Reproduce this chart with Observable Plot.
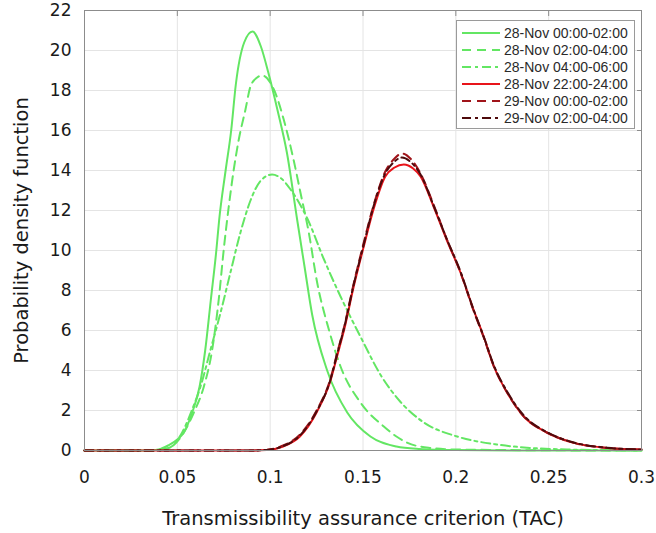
<!DOCTYPE html>
<html><head><meta charset="utf-8">
<script src="https://cdn.jsdelivr.net/npm/d3@7"></script>
<script src="https://cdn.jsdelivr.net/npm/@observablehq/plot@0.6"></script>
<style>
body{margin:0;background:#fff}
#wrap{position:relative;width:656px;height:533px}
#legend{position:absolute;left:456px;top:20px;width:179px;height:109px;border:1px solid #9a9a9a;background:#fff;font-family:"Liberation Sans",Arial,sans-serif;font-size:14px;color:#2a2a2a;box-sizing:border-box;padding-top:3px}
#legend .row{display:flex;align-items:center;height:17px}
#legend svg{margin-left:5px;margin-right:4px}
</style>
</head><body><div id="wrap"><div id="legend"></div></div>
<script>
const seriesNames = ["28-Nov 00:00-02:00","28-Nov 02:00-04:00","28-Nov 04:00-06:00","28-Nov 22:00-24:00","29-Nov 00:00-02:00","29-Nov 02:00-04:00"];
const seriesColors = ["#63e663","#63e663","#63e663","#e8141a","#a0141a","#4e0a0c"];
const seriesDash = ["none","9,6","9,4,3,4","none","9,6","9,4,3,4"];

const g1x = [0,0.035,0.04,0.045,0.05,0.0535,0.058,0.062,0.065,0.068,0.071,0.0725,0.076,0.079,0.0815,0.086,0.0905,0.095,0.099,0.104,0.109,0.1146,0.1185,0.1226,0.1307,0.1415,0.154,0.168,0.18,0.2,0.25,0.3];
const g1y = [0,0,0.05,0.25,0.55,0.9,1.9,3.2,5.0,7.5,10.0,11.5,14.0,16.0,18.3,20.4,20.95,20.2,18.9,17.0,14.9,11.5,9.2,6.8,4.0,1.9,0.7,0.2,0.08,0.02,0,0];

const g2x = [0,0.035,0.04,0.046,0.0535,0.0589,0.0643,0.0688,0.0723,0.075,0.0777,0.0804,0.0831,0.0867,0.0894,0.093,0.0957,0.102,0.1073,0.1127,0.1163,0.1208,0.1253,0.1316,0.1379,0.1486,0.1612,0.168,0.174,0.186,0.2,0.25,0.3];
const g2y = [0,0,0.03,0.15,0.9,1.9,3.2,5.05,7.55,10.05,12.2,14.05,15.55,17.05,18.2,18.65,18.75,18.05,16.55,14.5,12.9,10.9,8.4,6.05,4.2,2.4,1.2,0.7,0.38,0.13,0.05,0.01,0];

const g3x = [0,0.035,0.04,0.046,0.0526,0.058,0.0625,0.0679,0.0733,0.0786,0.084,0.0894,0.095,0.101,0.106,0.111,0.12,0.129,0.1379,0.1486,0.16,0.17,0.1828,0.2007,0.222,0.24,0.26,0.28,0.3];
const g3y = [0,0,0.03,0.15,0.9,2.05,3.2,5.05,6.9,8.9,10.9,12.5,13.5,13.8,13.6,13.05,11.6,9.55,7.7,5.7,3.7,2.45,1.4,0.7,0.3,0.13,0.05,0.02,0];

const r1x = [0,0.09,0.098,0.107,0.116,0.125,0.1325,0.136,0.14,0.145,0.1504,0.1558,0.162,0.167,0.172,0.177,0.181,0.188,0.195,0.2025,0.2097,0.215,0.2205,0.2276,0.2366,0.249,0.2636,0.2815,0.3];
const r1y = [0,0,0.02,0.2,0.7,1.9,3.5,4.7,6.1,8.2,10.2,12.1,13.7,14.15,14.3,14.1,13.7,12.2,10.55,8.9,7.0,5.7,4.2,2.9,1.7,0.9,0.38,0.13,0.05];

const r2x = [0,0.09,0.098,0.107,0.116,0.125,0.1325,0.136,0.14,0.145,0.1504,0.1558,0.162,0.167,0.171,0.176,0.181,0.188,0.195,0.2025,0.2097,0.215,0.2205,0.2276,0.2366,0.249,0.2636,0.2815,0.3];
const r2y = [0,0,0.03,0.25,0.8,2.0,3.6,4.85,6.25,8.35,10.4,12.3,13.95,14.6,14.85,14.55,13.85,12.3,10.6,8.9,6.95,5.65,4.2,2.9,1.7,0.9,0.38,0.13,0.05];

const r3x = [0,0.09,0.098,0.107,0.116,0.125,0.1325,0.136,0.14,0.145,0.1504,0.1558,0.162,0.167,0.171,0.176,0.181,0.188,0.195,0.2025,0.2097,0.215,0.2205,0.2276,0.2366,0.249,0.2636,0.2815,0.3];
const r3y = [0,0,0.03,0.22,0.75,1.95,3.55,4.8,6.2,8.3,10.3,12.25,13.85,14.45,14.65,14.4,13.8,12.25,10.6,8.95,7.0,5.7,4.25,2.95,1.75,0.92,0.4,0.14,0.05];

const xTicks = [0,0.05,0.1,0.15,0.2,0.25,0.3];
const xTickLabels = ["0","0.05","0.1","0.15","0.2","0.25","0.3"];
const yTicks = [0,2,4,6,8,10,12,14,16,18,20,22];
const xLabel = "Transmissibility assurance criterion (TAC)";
const yLabel = "Probability density function";

const xsAll = [g1x,g2x,g3x,r1x,r2x,r3x];
const ysAll = [g1y,g2y,g3y,r1y,r2y,r3y];
const series = xsAll.map((xs,k)=>xs.map((x,i)=>({x, y: ysAll[k][i]})));

const font = "DejaVu Sans, Verdana, sans-serif";
const chart = Plot.plot({
  width: 656, height: 533,
  marginLeft: 84, marginRight: 15, marginTop: 10, marginBottom: 83,
  style: {fontFamily: font, color: "#1a1a1a", background: "#fff"},
  x: {domain: [0, 0.3]},
  y: {domain: [0, 22]},
  marks: [
    Plot.gridX(xTicks, {stroke: "#e4e4e4", strokeOpacity: 1}),
    Plot.gridY(yTicks, {stroke: "#e4e4e4", strokeOpacity: 1}),
    Plot.axisX(xTicks, {anchor: "top", tickSize: 5, dy: 5, tickFormat: () => "", label: null, stroke: "#8c8c8c"}),
    Plot.axisY(yTicks, {anchor: "right", tickSize: 5, dx: -5, tickFormat: () => "", label: null, stroke: "#8c8c8c"}),
    Plot.axisX(xTicks, {tickSize: 0, tickPadding: 20, fontSize: 17, tickFormat: d => xTickLabels[xTicks.indexOf(d)], label: null}),
    Plot.axisY(yTicks, {tickSize: 0, tickPadding: 13, fontSize: 17, label: null}),
    ...series.map((rows,k) => Plot.line(rows, {x: "x", y: "y", stroke: seriesColors[k], strokeWidth: 2, strokeDasharray: seriesDash[k], curve: "monotone-x"})),
    Plot.frame({stroke: "#8c8c8c"}),
    Plot.text([yLabel], {text: d => d, frameAnchor: "left", textAnchor: "middle", lineAnchor: "middle", rotate: -90, dx: -63, fontSize: 19.5}),
    Plot.text([xLabel], {text: d => d, frameAnchor: "bottom", textAnchor: "middle", lineAnchor: "middle", dy: 68, fontSize: 19.5})
  ]
});
const wrap = document.getElementById("wrap");
wrap.insertBefore(chart, wrap.firstChild);

const legend = document.getElementById("legend");
seriesNames.forEach((name,k) => {
  const row = document.createElement("div");
  row.className = "row";
  row.innerHTML = `<svg width="38" height="6"><line x1="0" x2="38" y1="3" y2="3" stroke="${seriesColors[k]}" stroke-width="2" stroke-dasharray="${seriesDash[k]}"/></svg><span>${name}</span>`;
  legend.appendChild(row);
});
</script>
</body></html>
